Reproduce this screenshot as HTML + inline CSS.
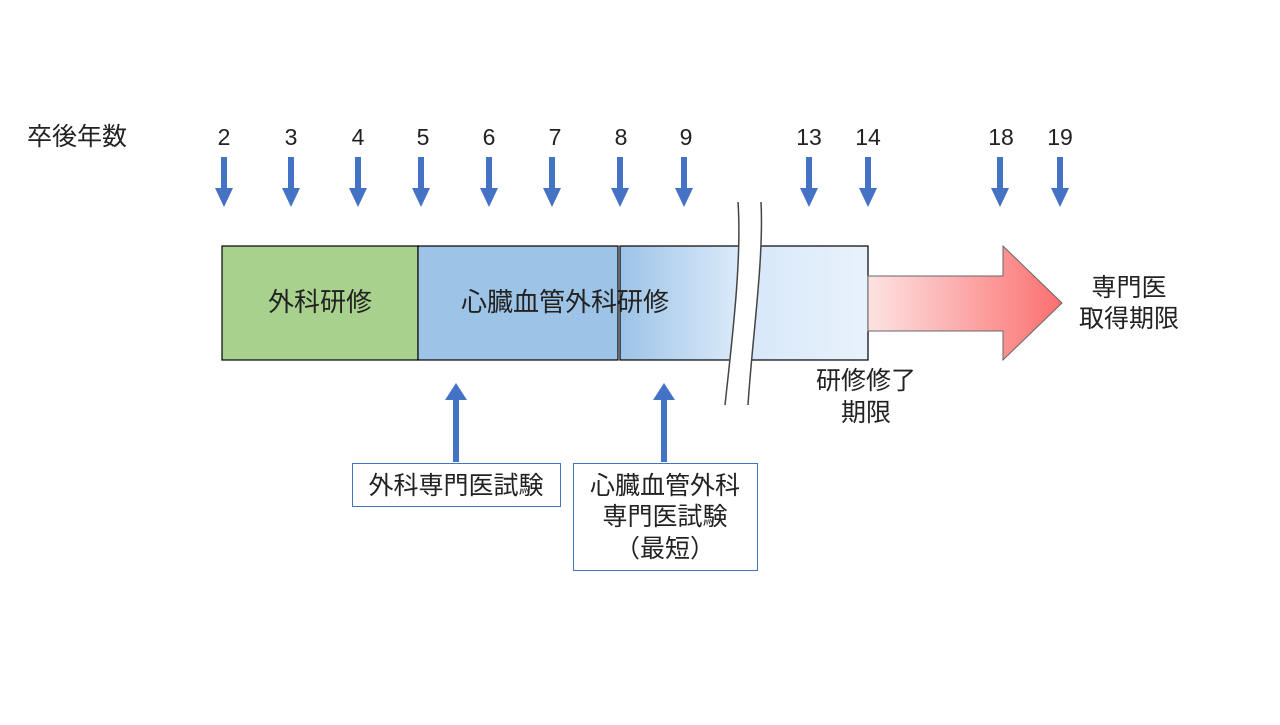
<!DOCTYPE html>
<html><head><meta charset="utf-8"><style>
body{margin:0;background:#fff}
svg text{font-family:"Liberation Sans","Noto Sans CJK JP",sans-serif;fill:#222}
</style></head><body>
<svg width="1280" height="720" xmlns="http://www.w3.org/2000/svg">
<defs>
<linearGradient id="g1" x1="0" x2="1"><stop offset="0" stop-color="#9dc3e6"/><stop offset="1" stop-color="#dcebfa"/></linearGradient>
<linearGradient id="g2" x1="0" x2="1"><stop offset="0" stop-color="#d6e7f8"/><stop offset="1" stop-color="#e9f2fc"/></linearGradient>
<linearGradient id="g3" x1="0" x2="1"><stop offset="0" stop-color="#fde3e3"/><stop offset="1" stop-color="#fb6f6f"/></linearGradient>
</defs>
<text x="27" y="145" font-size="25">卒後年数</text>
<g font-size="23" text-anchor="middle">
<text x="224" y="145">2</text><text x="291" y="145">3</text><text x="358" y="145">4</text><text x="423" y="145">5</text><text x="489" y="145">6</text><text x="555" y="145">7</text><text x="621" y="145">8</text><text x="686" y="145">9</text><text x="809" y="145">13</text><text x="868" y="145">14</text><text x="1001" y="145">18</text><text x="1060" y="145">19</text>
</g>
<g fill="#4472c4">
<path id="a" d="M-3,157 h6 v31 h6 l-9,19 l-9,-19 h6z" transform="translate(224,0)"/>
<use href="#a" x="67"/><use href="#a" x="134"/><use href="#a" x="197"/><use href="#a" x="265"/><use href="#a" x="328"/><use href="#a" x="396"/><use href="#a" x="460"/><use href="#a" x="585"/><use href="#a" x="644"/><use href="#a" x="776"/><use href="#a" x="836"/>
<path d="M453,462 v-62 h-8 l11,-17 l11,17 h-8 v62z"/>
<path d="M661,462 v-62 h-8 l11,-17 l11,17 h-8 v62z"/>
</g>
<rect x="222" y="246" width="196" height="114" fill="#a9d18e" stroke="#000" stroke-width="1.2"/>
<rect x="418" y="246" width="200" height="114" fill="#9dc3e6" stroke="#000" stroke-width="1.2"/>
<rect x="620" y="246" width="120" height="114" fill="url(#g1)" stroke="#000" stroke-width="1.2"/>
<rect x="740" y="246" width="128" height="114" fill="url(#g2)" stroke="#000" stroke-width="1.2"/>
<path d="M738,202 C742,260 732,340 725,405 L748,405 C752,340 764,260 761,202Z" fill="#fff" stroke="none"/>
<path d="M738,202 C742,260 732,340 725,405 M761,202 C764,260 752,340 748,405" fill="none" stroke="#444" stroke-width="1.5"/>
<path d="M868,276 H1003 V246 L1062,303 L1003,360 V331 H868Z" fill="url(#g3)" stroke="#666" stroke-width="1"/>
<text x="320" y="311" font-size="26" text-anchor="middle">外科研修</text>
<text x="461" y="311" font-size="26">心臓血管外科研修</text>
<text x="1129" y="296" font-size="25" text-anchor="middle">専門医</text>
<text x="1129" y="327" font-size="25" text-anchor="middle">取得期限</text>
<text x="866" y="389" font-size="25" text-anchor="middle">研修修了</text>
<text x="866" y="421" font-size="25" text-anchor="middle">期限</text>
<rect x="352.5" y="463.5" width="208" height="43" fill="#fff" stroke="#4472c4"/>
<text x="456" y="494" font-size="25" text-anchor="middle">外科専門医試験</text>
<rect x="573.5" y="463.5" width="184" height="107" fill="#fff" stroke="#4472c4"/>
<text x="665" y="494" font-size="25" text-anchor="middle">心臓血管外科</text>
<text x="665" y="525" font-size="25" text-anchor="middle">専門医試験</text>
<text x="665" y="557" font-size="25" text-anchor="middle">（最短）</text>
</svg>
</body></html>
